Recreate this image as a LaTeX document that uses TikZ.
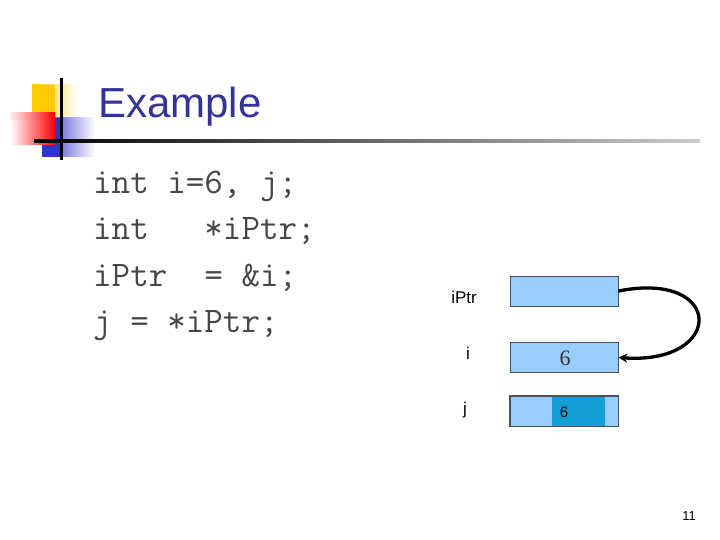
\documentclass[tikz,border=0pt]{standalone}
\usepackage{fontspec}
\setmainfont{Liberation Sans}
\newfontfamily\serifnum{Liberation Serif}
\usetikzlibrary{arrows.meta}
\definecolor{titleblue}{HTML}{333399}
\definecolor{cellblue}{HTML}{99CCFF}
\definecolor{cellborder}{HTML}{505050}
\definecolor{celldark}{HTML}{149FD7}
\definecolor{logoyellow}{HTML}{FFCC00}
\definecolor{logoblue}{HTML}{3333CC}
\tikzset{
  cell/.style={draw=cellborder, fill=cellblue, line width=0.8pt, minimum width=108pt, minimum height=30pt, inner sep=0pt},
  codeline/.style={anchor=base west, inner sep=0pt, font=\ttfamily\fontsize{36}{36}\selectfont, text=black!72},
  varlabel/.style={anchor=center, inner sep=0pt, font=\fontsize{17}{17}\selectfont},
  pointer/.style={line width=3.3pt, -{Stealth[length=9pt,width=9pt]}}
}
\begin{document}
\begin{tikzpicture}[x=1pt,y=-1pt]
\useasboundingbox (0,0) rectangle (720,540);
% logo
\shade[left color=logoyellow, right color=white] (32,85) rectangle (78,118);
\fill[logoyellow] (32,85) rectangle (55,118);
\shade[left color=logoblue, right color=white] (42,118) rectangle (95,157);
\fill[logoblue] (42,118) rectangle (62,157);
\shade[left color=white, right color=red] (10,113) rectangle (55,145);
\shade[left color=red!10, right color=red, opacity=0.5] (10,113) rectangle (55,120);
\fill[black] (60,78) rectangle (62.5,160);
\shade[left color=black, right color=black!20] (34,140) rectangle (700,142.5);
% title
\node[anchor=base west, inner sep=0pt, text=titleblue, font=\fontsize{42}{42}\selectfont] (title) at (98,118) {Example};
% code
\node[codeline] (c1) at (93,194) {int i=6, j;};
\node[codeline] (c2) at (93,240) {int \ \ *iPtr;};
\node[codeline] (c3) at (93,286) {iPtr \ = \&i;};
\node[codeline] (c4) at (93,332) {j = *iPtr;};
% memory cells
\node[cell] (pbox) at (564,291) {};
\node[cell] (ibox) at (564,357.5) {};
\node[cell] (jbox) at (564,411) {};
\node[fill=celldark, minimum width=53pt, minimum height=29pt, inner sep=0pt] (jval) at (578.5,411) {};
\draw[cellborder, line width=0.8pt] (jbox.south west) rectangle (jbox.north east);
\node[inner sep=0pt, text=black!80, font=\serifnum\fontsize{22}{22}\selectfont] (ival) at (565,358) {6};
\node[inner sep=0pt, font=\fontsize{15}{15}\selectfont] (jnum) at (564,412) {6};
% labels
\node[varlabel] (plabel) at (464,297) {iPtr};
\node[varlabel] (ilabel) at (468,353) {i};
\node[varlabel] (jlabel) at (465,410) {j};
% pointer arrow
\draw[pointer] (pbox.east) .. controls (725,270) and (725,365) .. (ibox.east);
% page number
\node[inner sep=0pt, font=\fontsize{13}{13}\selectfont] (pnum) at (689,516) {11};
\end{tikzpicture}
\end{document}
